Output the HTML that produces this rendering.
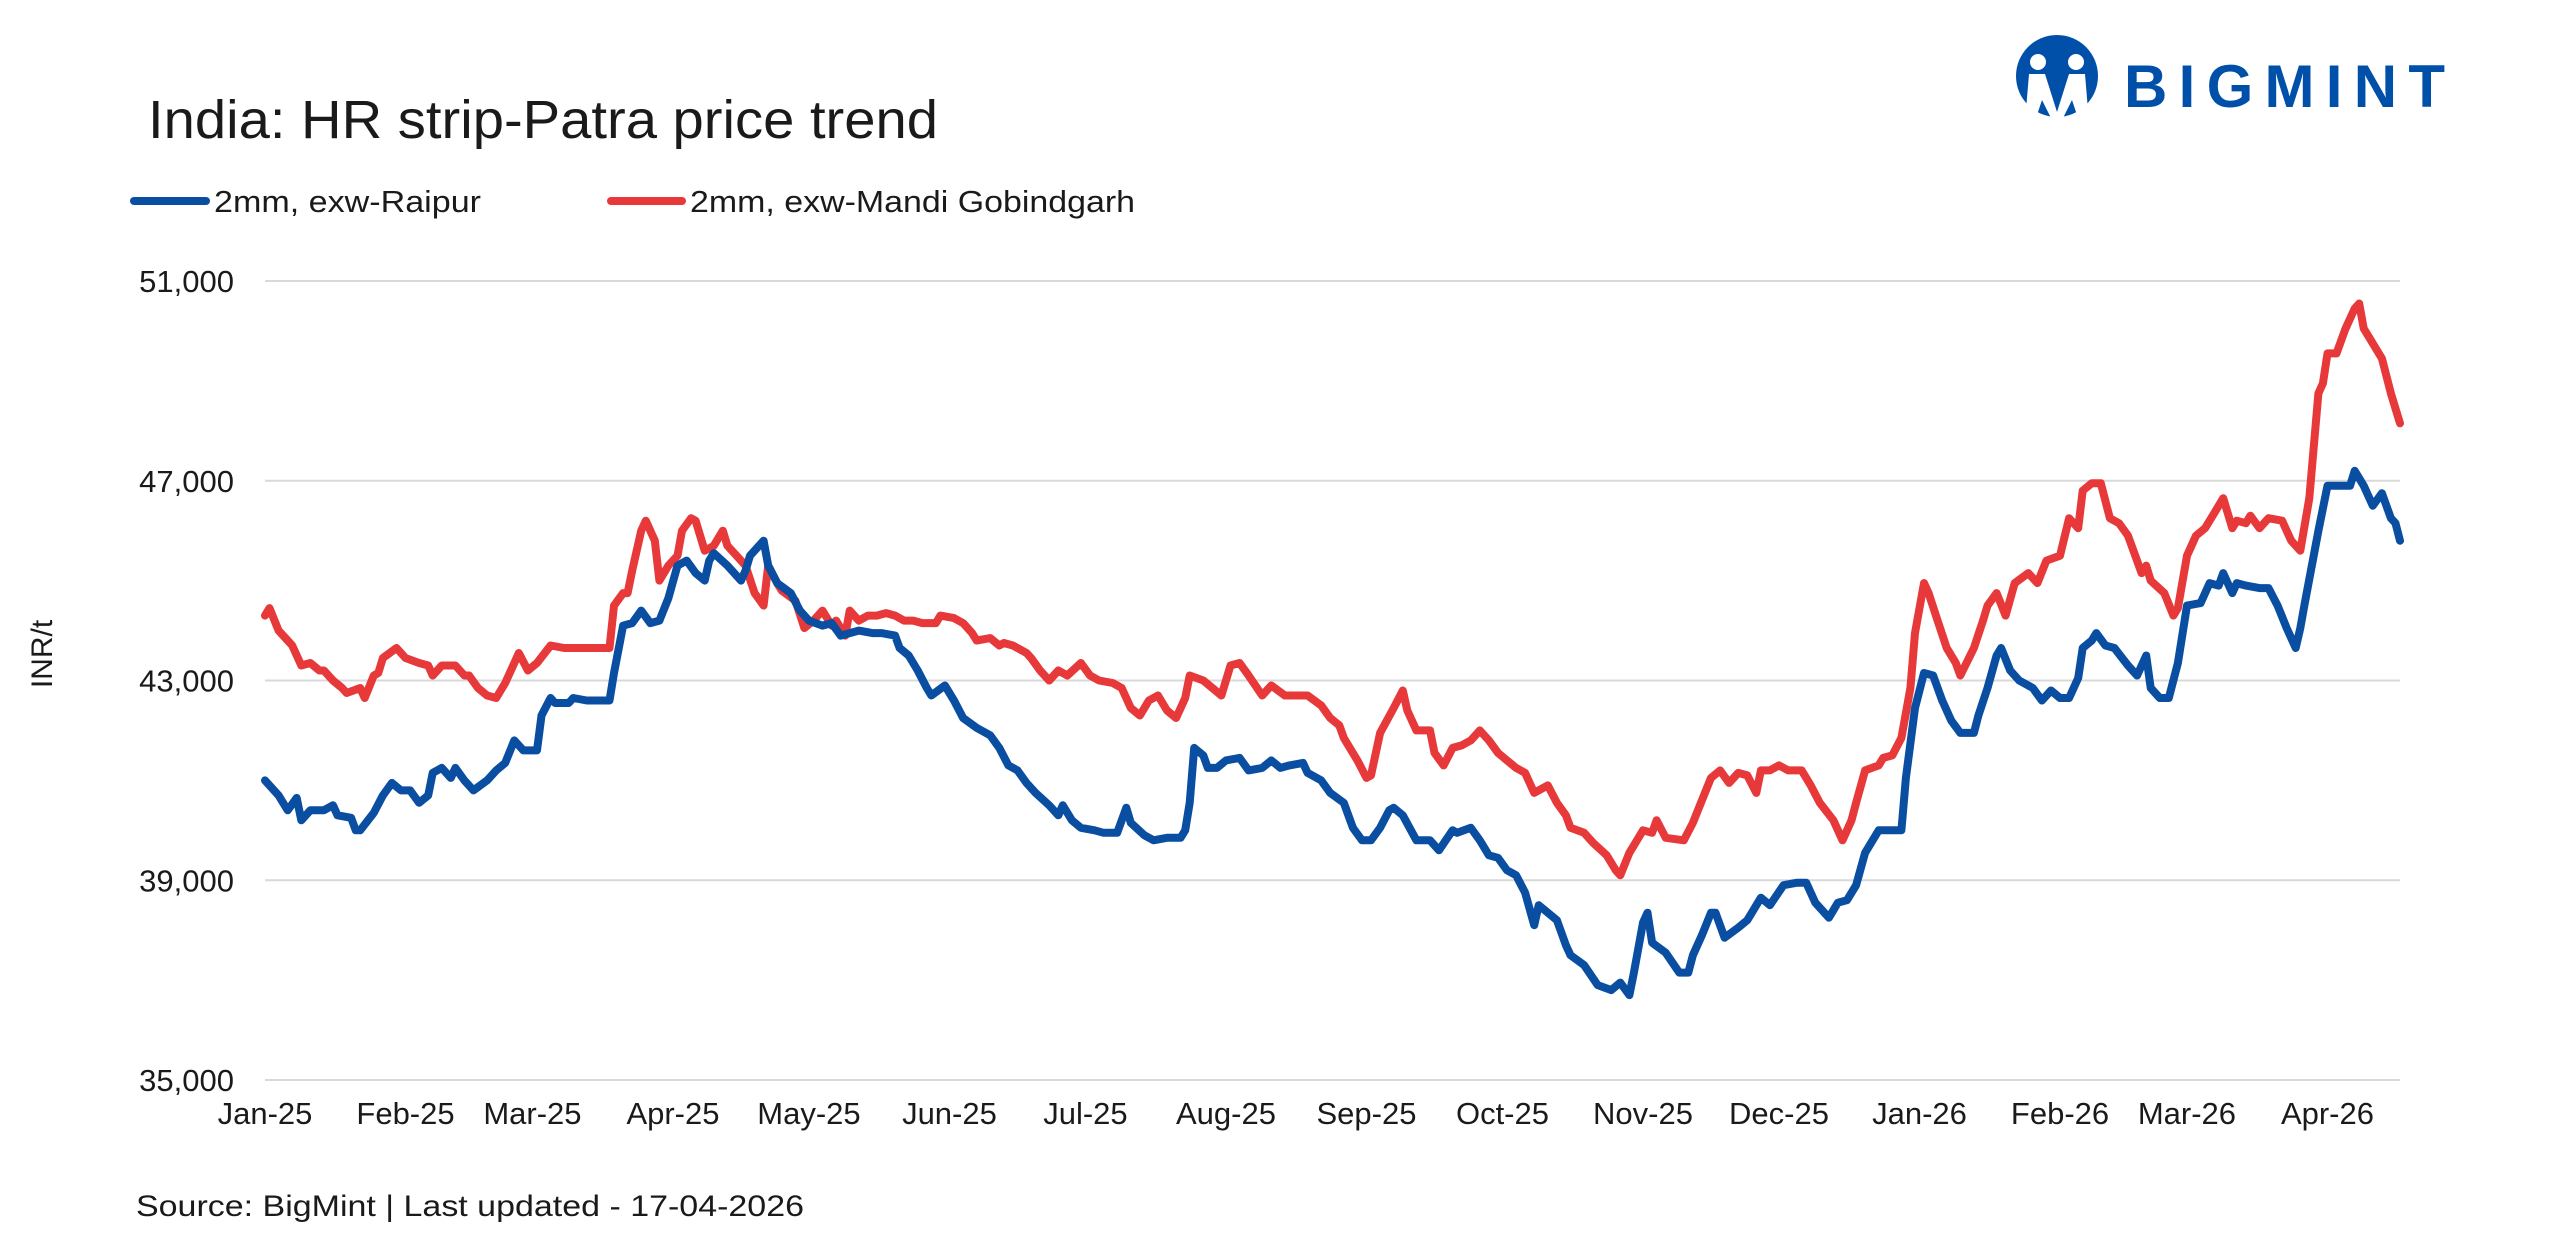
<!DOCTYPE html>
<html><head><meta charset="utf-8"><style>
html,body{margin:0;padding:0;background:#fff;}
svg{display:block;font-family:"Liberation Sans",sans-serif;}
</style></head><body>
<svg id="chart" width="2560" height="1255" viewBox="0 0 2560 1255">
  <text x="148" y="138" font-size="54" fill="#1a1a1a" textLength="790" lengthAdjust="spacingAndGlyphs">India: HR strip-Patra price trend</text>
  <g>
    <circle cx="2057" cy="76" r="41" fill="#0050aa"/>
    <circle cx="2038" cy="62" r="8" fill="#fff"/>
    <circle cx="2076" cy="62" r="8" fill="#fff"/>
    <path d="M2029 74 L2045 74 L2057 112 L2069 74 L2085 74 L2088 110 L2078 118 L2072 100 L2062 120 L2052 120 L2042 100 L2036 118 L2026 110 Z" fill="#fff"/>
    <text x="2124" y="107" font-size="60" font-weight="bold" fill="#0050aa" textLength="321" lengthAdjust="spacing">BIGMINT</text>
  </g>
  <g>
    <g>
      <line x1="134" y1="201" x2="206" y2="201" stroke="#0a4ea2" stroke-width="8" stroke-linecap="round"/>
      <text x="214" y="212" font-size="31" fill="#1a1a1a" textLength="267" lengthAdjust="spacingAndGlyphs">2mm, exw-Raipur</text>
    </g>
    <g>
      <line x1="611" y1="201" x2="682" y2="201" stroke="#e8393a" stroke-width="8" stroke-linecap="round"/>
      <text x="690" y="212" font-size="31" fill="#1a1a1a" textLength="445" lengthAdjust="spacingAndGlyphs">2mm, exw-Mandi Gobindgarh</text>
    </g>
  </g>
  <g id="grid"></g>
  <g id="yticks"></g>
  <g id="xticks"></g>
  <text x="0" y="0" transform="translate(52,654) rotate(-90)" font-size="30" text-anchor="middle" fill="#1a1a1a">INR/t</text>
  <g id="series"></g>
  <text x="136" y="1216" font-size="30" fill="#1a1a1a" textLength="668" lengthAdjust="spacingAndGlyphs">Source: BigMint  | Last updated - 17-04-2026</text>
</svg>
<script>
const yTicks = [35000, 39000, 43000, 47000, 51000];
const monthLabels = ["Jan-25","Feb-25","Mar-25","Apr-25","May-25","Jun-25","Jul-25","Aug-25","Sep-25","Oct-25","Nov-25","Dec-25","Jan-26","Feb-26","Mar-26","Apr-26"];
const monthDays = [0,31,59,90,120,151,181,212,243,273,304,334,365,396,424,455];
const raipurDays = [0,3,5,7,8,10,13,15,16,19,20,21,24,26,28,30,32,34,36,37,39,41,42,44,46,49,51,53,55,57,60,61,63,64,67,68,71,76,77,79,81,83,85,87,89,91,93,95,97,98,99,102,105,106,107,110,111,113,116,118,120,123,125,127,129,131,134,136,139,140,142,144,146,147,150,152,154,157,160,162,164,166,168,170,173,175,176,178,180,183,185,188,190,191,194,196,199,202,203,204,205,207,208,210,212,215,217,220,222,224,226,229,230,233,235,238,240,242,244,246,248,249,251,254,257,259,262,263,266,268,270,272,274,276,278,280,281,283,285,287,288,291,294,297,299,301,302,304,305,306,309,312,314,315,317,319,320,322,325,327,330,332,335,338,340,342,345,347,349,351,353,356,359,361,362,364,366,368,370,372,374,377,378,380,382,383,385,387,390,392,394,396,398,400,401,403,404,406,408,411,413,415,416,418,420,422,424,427,429,431,432,434,435,437,440,442,444,446,448,449,450,453,455,457,460,461,463,465,467,469,470,471];
const raipurValues = [41000,40700,40400,40650,40200,40400,40400,40500,40300,40250,40000,40000,40350,40700,40950,40800,40800,40550,40700,41150,41250,41050,41250,41000,40800,41000,41200,41350,41800,41600,41600,42300,42650,42550,42550,42650,42600,42600,43150,44100,44150,44400,44150,44200,44650,45300,45400,45150,45000,45400,45550,45300,45000,45200,45500,45800,45300,44950,44750,44400,44200,44100,44150,43900,43950,44000,43950,43950,43900,43650,43500,43200,42850,42700,42900,42600,42250,42050,41900,41650,41300,41200,40950,40750,40500,40300,40500,40200,40050,40000,39950,39950,40450,40150,39900,39800,39850,39850,40000,40550,41650,41500,41250,41250,41400,41450,41200,41250,41400,41250,41300,41350,41150,41000,40750,40550,40050,39800,39800,40050,40400,40450,40300,39800,39800,39600,40000,39950,40050,39800,39500,39450,39200,39100,38750,38100,38500,38350,38200,37700,37500,37300,36900,36800,36950,36700,37150,38150,38350,37750,37550,37150,37150,37500,37900,38350,38350,37850,38050,38200,38650,38500,38900,38950,38950,38550,38250,38550,38600,38900,39550,40000,40000,40000,41050,42450,43150,43100,42600,42200,41950,41950,42300,42850,43500,43650,43200,43000,42850,42600,42800,42650,42650,43050,43650,43800,43950,43700,43650,43300,43100,43500,42850,42650,42650,43350,44500,44550,44950,44900,45150,44750,44950,44900,44850,44850,44500,44050,43650,44050,44550,46000,46900,46900,46900,47200,46900,46500,46750,46250,46150,45800];
const mandiDays = [0,1,3,5,6,8,10,12,13,15,17,18,21,22,24,25,26,29,31,34,36,37,39,42,44,45,47,49,51,53,55,56,58,60,63,66,68,70,76,77,79,80,81,83,84,86,87,89,91,92,94,95,97,99,101,102,105,106,108,110,111,113,114,117,119,121,123,125,126,128,129,131,133,135,137,139,141,143,145,148,149,152,154,156,157,160,162,163,165,168,169,171,173,175,177,180,182,184,187,189,191,193,195,197,199,201,203,204,207,209,211,213,215,217,220,222,225,230,233,235,237,238,241,243,244,246,249,251,252,254,257,258,260,262,264,266,268,270,272,274,276,278,280,283,285,287,288,291,293,296,298,299,301,304,306,307,309,313,315,317,319,321,323,325,327,329,330,332,334,336,339,341,343,346,348,350,351,353,356,357,359,361,363,364,366,367,369,371,373,374,377,379,380,382,384,386,389,391,393,396,398,400,401,403,405,407,409,411,414,415,416,419,421,422,424,426,428,430,432,434,435,437,438,440,442,445,447,449,451,453,454,455,457,459,461,462,463,465,467,469,471];
const mandiValues = [44300,44450,44000,43800,43700,43300,43350,43200,43200,43000,42850,42750,42850,42650,43100,43150,43450,43650,43450,43350,43300,43100,43300,43300,43100,43100,42850,42700,42650,42950,43350,43550,43200,43350,43700,43650,43650,43650,43650,44500,44750,44750,45200,46000,46200,45800,45000,45300,45500,46000,46250,46200,45600,45700,46000,45700,45400,45300,44750,44500,45300,44950,44800,44600,44050,44200,44400,44100,44200,43900,44400,44200,44300,44300,44350,44300,44200,44200,44150,44150,44300,44250,44150,43950,43800,43850,43700,43750,43700,43550,43450,43200,43000,43200,43100,43350,43100,43000,42950,42850,42450,42300,42600,42700,42400,42250,42650,43100,43000,42850,42700,43300,43350,43100,42700,42900,42700,42700,42500,42250,42100,41850,41400,41050,41100,41950,42450,42800,42400,42000,42000,41550,41300,41650,41700,41800,42000,41800,41550,41400,41250,41150,40750,40900,40550,40300,40050,39950,39750,39500,39200,39100,39550,40000,39950,40200,39850,39800,40150,40600,41050,41200,40950,41150,41100,40750,41200,41200,41300,41200,41200,40900,40550,40200,39800,40200,40550,41200,41300,41450,41500,41850,42850,43950,44950,44750,44200,43650,43350,43100,43650,44200,44500,44750,44300,44950,45150,44950,45400,45500,46250,46050,46800,46950,46950,46250,46150,45900,45150,45300,45000,44750,44300,44450,45500,45900,46050,46350,46650,46050,46200,46150,46300,46050,46250,46200,45800,45600,46650,48750,48950,49550,49550,50050,50450,50550,50050,49750,49450,48750,48150];

const NS = "http://www.w3.org/2000/svg";
const X0 = 265, X1 = 2400, Y0 = 1080, Y1 = 281;
const xScale = d => X0 + d / 471 * (X1 - X0);
const yScale = v => Y0 - (v - 35000) / 16000 * (Y0 - Y1);

const grid = document.getElementById('grid');
const yt = document.getElementById('yticks');
yTicks.forEach(v => {
  const l = document.createElementNS(NS, 'line');
  l.setAttribute('x1', X0); l.setAttribute('x2', X1);
  l.setAttribute('y1', yScale(v)); l.setAttribute('y2', yScale(v));
  l.setAttribute('stroke', '#d9d9d9'); l.setAttribute('stroke-width', '2');
  
  
  grid.appendChild(l);
  const t = document.createElementNS(NS, 'text');
  t.setAttribute('x', 234); t.setAttribute('y', yScale(v) + 11);
  t.setAttribute('text-anchor', 'end'); t.setAttribute('font-size', '31'); t.setAttribute('fill', '#1a1a1a');
  t.textContent = v.toLocaleString('en-US');
  
  
  yt.appendChild(t);
});
const xt = document.getElementById('xticks');
monthLabels.forEach((m, i) => {
  const t = document.createElementNS(NS, 'text');
  t.setAttribute('x', xScale(monthDays[i])); t.setAttribute('y', 1124);
  t.setAttribute('text-anchor', 'middle'); t.setAttribute('font-size', '31'); t.setAttribute('fill', '#1a1a1a');
  t.textContent = m;
  
  
  xt.appendChild(t);
});
const ser = document.getElementById('series');
function drawLine(days, vals, color, name) {
  const p = document.createElementNS(NS, 'polyline');
  p.setAttribute('points', days.map((d, i) => xScale(d).toFixed(1) + ',' + yScale(vals[i]).toFixed(1)).join(' '));
  p.setAttribute('fill', 'none'); p.setAttribute('stroke', color); p.setAttribute('stroke-width', '8');
  p.setAttribute('stroke-linejoin', 'round'); p.setAttribute('stroke-linecap', 'round');
  
  
  ser.appendChild(p);
}
drawLine(mandiDays, mandiValues, '#e8393a', 'mandi-gobindgarh-line');
drawLine(raipurDays, raipurValues, '#0a4ea2', 'raipur-line');
</script>
</body></html>
